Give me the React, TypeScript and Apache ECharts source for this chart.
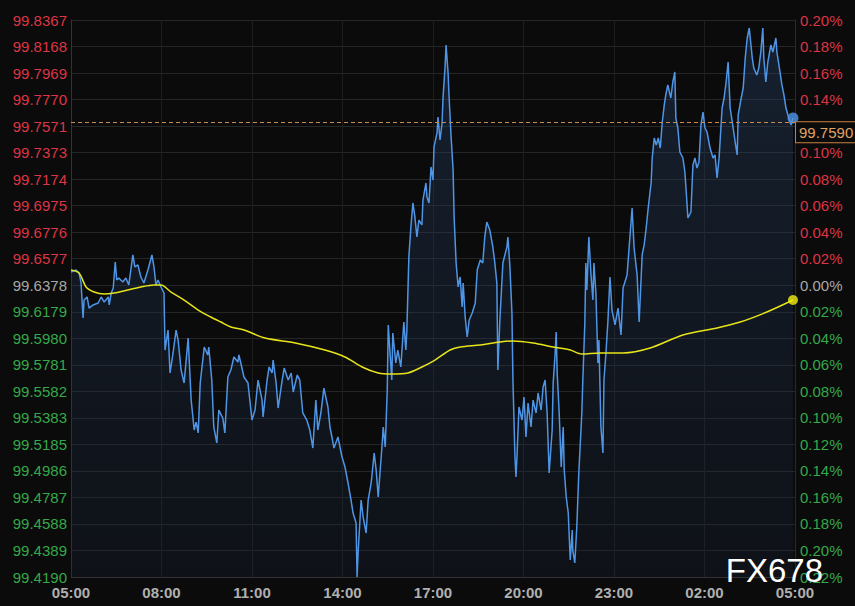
import React, { useEffect, useRef } from 'react';
import * as echarts from 'echarts';

// minutes after 05:00
const priceTimes = [0,10,16,20,24,26,32,36,44,54,60,66,74,76,80,84,88,91,95,103,109,115,123,127,133,139,145,153,161,165,169,173,179,185,187,193,197,203,209,213,219,225,233,239,245,249,253,257,265,272,274,280,284,290,294,302,306,312,318,324,332,334,340,344,352,360,366,372,380,382,390,394,400,402,408,412,420,424,432,438,442,450,455,461,469,475,481,487,491,497,503,511,515,519,523,531,539,545,551,557,561,567,569,571,577,581,587,591,597,603,607,611,615,619,621,625,629,631,638,640,646,650,656,660,662,666,668,672,676,680,684,688,692,698,700,706,708,712,716,720,722,728,730,734,738,740,744,746,750,752,756,760,762,766,770,774,778,780,784,788,792,798,804,808,814,819,823,827,833,839,843,847,849,853,859,867,869,873,877,879,883,885,887,891,897,901,905,909,915,919,925,929,935,939,943,947,951,957,959,963,965,967,971,975,979,981,985,989,993,997,998,1002,1006,1010,1016,1018,1022,1024,1026,1030,1034,1038,1040,1044,1048,1050,1054,1058,1060,1064,1068,1072,1076,1082,1088,1094,1098,1106,1110,1116,1120,1126,1130,1136,1140,1144,1148,1154,1156,1160,1164,1168,1172,1176,1180,1183,1187,1193,1197,1201,1203,1207,1211,1217,1221,1225,1227,1233,1237,1241,1245,1249,1253,1257,1261,1265,1271,1277,1281,1285,1289,1295,1299,1303,1307,1311,1317,1321,1325,1327,1333,1337,1341,1345,1349,1355,1358,1364,1368,1372,1376,1378,1382,1386,1392,1396,1402,1404,1408,1414,1418,1422,1426,1432,1436];
const prices = [99.6477,99.6492,99.6470,99.6395,99.6132,99.6267,99.6290,99.6207,99.6230,99.6245,99.6290,99.6252,99.6290,99.6230,99.6320,99.6357,99.6552,99.6417,99.6432,99.6402,99.6432,99.6380,99.6605,99.6515,99.6530,99.6440,99.6395,99.6492,99.6605,99.6515,99.6380,99.6417,99.6365,99.6320,99.5892,99.6042,99.5720,99.5870,99.6042,99.5967,99.5742,99.5645,99.5982,99.5517,99.5292,99.5352,99.5270,99.5645,99.5915,99.5855,99.5915,99.5667,99.5315,99.5195,99.5442,99.5382,99.5270,99.5690,99.5742,99.5840,99.5802,99.5855,99.5757,99.5690,99.5645,99.5367,99.5442,99.5667,99.5517,99.5390,99.5667,99.5765,99.5720,99.5817,99.5645,99.5457,99.5667,99.5757,99.5667,99.5720,99.5577,99.5705,99.5667,99.5420,99.5367,99.5292,99.5157,99.5517,99.5292,99.5420,99.5607,99.5465,99.5315,99.5240,99.5157,99.5240,99.5090,99.5015,99.4895,99.4767,99.4670,99.4595,99.4190,99.4370,99.4767,99.4640,99.4520,99.4767,99.4895,99.5120,99.4992,99.4790,99.4992,99.5195,99.5315,99.5165,99.5592,99.6080,99.5667,99.6020,99.5795,99.5892,99.5765,99.5990,99.6102,99.5892,99.6042,99.6590,99.6815,99.6995,99.6890,99.6740,99.6867,99.6830,99.7017,99.7145,99.7040,99.6995,99.7265,99.7167,99.7415,99.7520,99.7640,99.7467,99.7595,99.7790,99.8015,99.8180,99.7970,99.7790,99.7490,99.7242,99.6890,99.6545,99.6365,99.6440,99.6215,99.6395,99.6140,99.5990,99.6117,99.6170,99.6245,99.6492,99.6567,99.6545,99.6740,99.6852,99.6792,99.6665,99.6545,99.6395,99.5742,99.6117,99.6545,99.6665,99.6740,99.6515,99.6170,99.5667,99.5090,99.4940,99.5090,99.5465,99.5367,99.5540,99.5240,99.5495,99.5315,99.5517,99.5420,99.5570,99.5442,99.5615,99.5667,99.5420,99.4970,99.5292,99.5645,99.5870,99.6027,99.5720,99.5420,99.5015,99.5315,99.4992,99.4790,99.4670,99.4317,99.4542,99.4392,99.4295,99.4565,99.4970,99.5420,99.5667,99.6095,99.6545,99.6342,99.6740,99.6470,99.6267,99.6545,99.6320,99.5795,99.5967,99.5315,99.5120,99.5667,99.5870,99.6117,99.6440,99.6192,99.6080,99.6207,99.6005,99.6357,99.6455,99.6657,99.6957,99.6657,99.6455,99.6102,99.6605,99.6680,99.6807,99.6957,99.7152,99.7332,99.7482,99.7430,99.7482,99.7407,99.7602,99.7730,99.7805,99.7880,99.7782,99.7902,99.7977,99.7632,99.7557,99.7377,99.7332,99.7227,99.7002,99.6882,99.6927,99.7280,99.7332,99.7257,99.7302,99.7580,99.7677,99.7557,99.7527,99.7407,99.7332,99.7355,99.7182,99.7332,99.7707,99.7782,99.7902,99.8052,99.7707,99.7557,99.7452,99.7355,99.7655,99.7782,99.7857,99.8082,99.8232,99.8307,99.8082,99.8007,99.7955,99.8007,99.8127,99.8307,99.8082,99.7902,99.8052,99.8180,99.8127,99.8232,99.8127,99.8030,99.7880,99.7805,99.7707,99.7655,99.7580,99.7632];

const maTimes = [0,16,30,46,66,86,113,139,165,179,199,225,253,278,298,318,344,386,446,505,545,579,611,638,670,698,724,754,774,814,853,879,919,959,993,1016,1052,1098,1152,1217,1285,1331,1384,1436];
const maValues = [99.6492,99.6470,99.6365,99.6327,99.6312,99.6320,99.6342,99.6365,99.6380,99.6380,99.6327,99.6267,99.6192,99.6140,99.6102,99.6065,99.6042,99.5982,99.5945,99.5892,99.5840,99.5765,99.5720,99.5712,99.5720,99.5765,99.5817,99.5892,99.5915,99.5930,99.5952,99.5960,99.5945,99.5915,99.5892,99.5862,99.5870,99.5870,99.5907,99.6005,99.6057,99.6102,99.6177,99.6267];

// tick labels, bottom to top
const leftTickLabels = ['99.4190','99.4389','99.4588','99.4787','99.4986','99.5185','99.5383','99.5582','99.5781','99.5980','99.6179','99.6378','99.6577','99.6776','99.6975','99.7174','99.7373','99.7571','99.7770','99.7969','99.8168','99.8367'];
const rightTickLabels = ['0.22%','0.20%','0.18%','0.16%','0.14%','0.12%','0.10%','0.08%','0.06%','0.04%','0.02%','0.00%','0.02%','0.04%','0.06%','0.08%','0.10%','0.12%','0.14%','0.16%','0.18%','0.20%'];
const baseIndex = 11;
const timeLabels = ['05:00','08:00','11:00','14:00','17:00','20:00','23:00','02:00','05:00'];
const lastQuote = 99.759;
const yMin = 99.419;
const yMax = 99.8367;

const RED = '#dc3545';
const GREEN = '#35a84a';
const GRAY = '#a8a8a8';
const FONT = 'Liberation Sans, Arial, sans-serif';

export default function App() {
  const ref = useRef<HTMLDivElement>(null);
  useEffect(() => {
    if (!ref.current) return;
    const chart = echarts.init(ref.current, undefined, { renderer: 'svg' });
    const interval = (yMax - yMin) / (leftTickLabels.length - 1);
    const idxOf = (v: number) => Math.round((v - yMin) / interval);
    const colorOf = (v: any) => {
      const i = idxOf(Number(v));
      return i > baseIndex ? RED : i < baseIndex ? GREEN : GRAY;
    };
    const priceData = priceTimes.map((t, i) => [t, prices[i]]);
    const maData = maTimes.map((t, i) => [t, maValues[i]]);
    const lastP = priceData[priceData.length - 1];
    const lastM = maData[maData.length - 1];
    const yCommon = {
      type: 'value' as const,
      min: yMin,
      max: yMax,
      interval,
      axisTick: { show: false },
    };
    chart.setOption({
      animation: false,
      backgroundColor: '#0b0b0b',
      grid: { left: 71, right: 60, top: 20, bottom: 29 },
      xAxis: {
        type: 'value',
        min: 0,
        max: 1440,
        interval: 180,
        axisLine: { show: true, lineStyle: { color: '#333' } },
        axisTick: { show: false },
        splitLine: { show: true, lineStyle: { color: '#1e1e1e' } },
        axisLabel: {
          color: '#b0b0b0',
          fontSize: 15,
          fontWeight: 'bold',
          fontFamily: FONT,
          margin: 8,
          formatter: (v: number) => timeLabels[Math.round(v / 180)] ?? '',
        },
      },
      yAxis: [
        {
          ...yCommon,
          position: 'left',
          axisLine: { show: true, lineStyle: { color: '#333' } },
          splitLine: { show: true, lineStyle: { color: '#262626' } },
          axisLabel: {
            fontSize: 15,
            fontFamily: FONT,
            margin: 4,
            color: colorOf,
            formatter: (v: number) => leftTickLabels[idxOf(v)] ?? '',
          },
        },
        {
          ...yCommon,
          position: 'right',
          axisLine: { show: true, lineStyle: { color: '#2a2a2a' } },
          splitLine: { show: false },
          axisLabel: {
            fontSize: 15,
            fontFamily: FONT,
            margin: 5,
            color: colorOf,
            formatter: (v: number) => rightTickLabels[idxOf(v)] ?? '',
          },
        },
      ],
      series: [
        {
          type: 'line',
          data: priceData,
          showSymbol: false,
          symbol: 'none',
          lineStyle: { color: '#4f95e6', width: 1.5 },
          areaStyle: {
            origin: 'start',
            color: new echarts.graphic.LinearGradient(0, 0, 0, 1, [
              { offset: 0, color: 'rgba(44,72,115,0.5)' },
              { offset: 1, color: 'rgba(24,38,62,0.35)' },
            ]),
          },
          z: 2,
          markLine: {
            silent: true,
            symbol: 'none',
            lineStyle: { color: '#c98a4e', type: [4, 3], width: 1 },
            label: {
              show: true,
              position: 'end',
              distance: 1,
              verticalAlign: 'top',
              formatter: () => lastQuote.toFixed(4),
              color: '#e0a468',
              fontSize: 15,
              fontFamily: FONT,
              backgroundColor: '#0b0b0b',
              borderColor: '#c9803f',
              borderWidth: 1,
              padding: [3, 3, 2, 3],
            },
            data: [{ yAxis: lastQuote }],
          },
        },
        {
          type: 'line',
          data: maData,
          showSymbol: false,
          symbol: 'none',
          smooth: 0.3,
          lineStyle: { color: '#e6e41a', width: 1.5 },
          z: 3,
        },
        {
          type: 'scatter',
          data: [lastP],
          symbolSize: 11,
          itemStyle: { color: '#4f95e6' },
          z: 4,
        },
        {
          type: 'scatter',
          data: [lastM],
          symbolSize: 10,
          itemStyle: { color: '#f2ee12' },
          z: 4,
        },
      ],
      graphic: [
        {
          type: 'text',
          right: 32,
          bottom: 19,
          z: 100,
          style: {
            text: 'FX678',
            fill: '#ffffff',
            fontSize: 33,
            fontFamily: FONT,
          },
        },
      ],
    });
    return () => chart.dispose();
  }, []);
  return <div ref={ref} style={{ position: 'fixed', left: 0, top: 0, width: 855, height: 606 }} />;
}
